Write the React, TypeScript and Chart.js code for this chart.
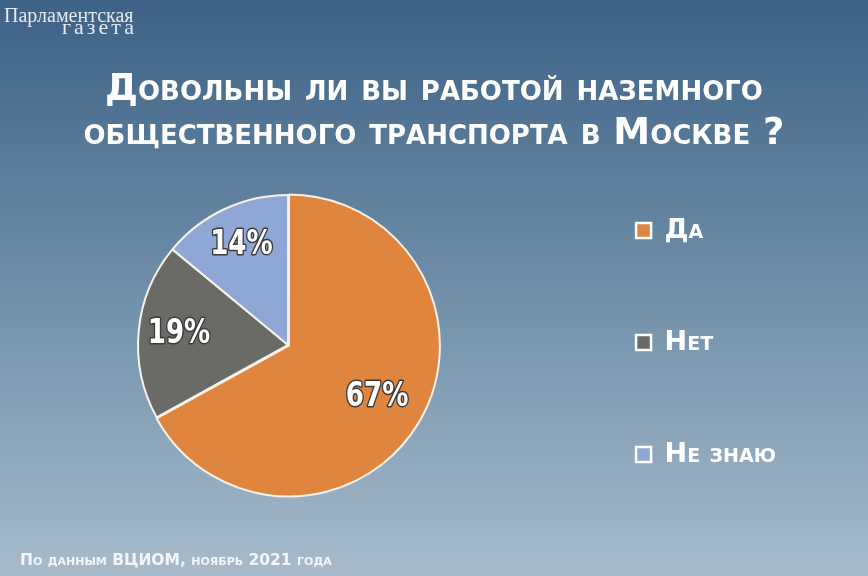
import React, { useEffect, useRef } from 'react';
import { Chart, registerables } from 'chart.js';

Chart.register(...registerables);

// ---- data ----
const categories = ['Да', 'Нет', 'Не знаю'];
const values = [67, 19, 14];
const sliceColors = ['#df853d', '#6a6b67', '#8fa7d4'];
const titleLines = ['Довольны ли вы работой наземного', 'общественного транспорта в Москве ?'];
const footerText = 'По данным ВЦИОМ, ноябрь 2021 года';
const logoTop = 'Парламентская';
const logoBottom = 'газета';

const FAMILY = "'DejaVu Sans', sans-serif";
const COND = "'DejaVu Sans Condensed', 'DejaVu Sans', sans-serif";
const W = 868;
const H = 576;
const LEGEND_FONT = 27;
const LEGEND_TEXT_W = 173.5;
const labelRadius = [0.69, 0.73, 0.73];

const backgroundPlugin = {
  id: 'bgPlugin',
  beforeDraw(chart: any) {
    const ctx = chart.ctx;
    ctx.save();
    const g = ctx.createLinearGradient(0, 0, 0, chart.height);
    g.addColorStop(0, '#3d6286');
    g.addColorStop(0.45, '#6a8aa5');
    g.addColorStop(1, '#a7bbcb');
    ctx.fillStyle = g;
    ctx.fillRect(0, 0, chart.width, chart.height);
    // logo
    ctx.fillStyle = '#e4eaf0';
    ctx.textBaseline = 'alphabetic';
    ctx.textAlign = 'left';
    ctx.font = "20px 'Liberation Serif', 'DejaVu Serif', serif";
    ctx.fillText(logoTop, 4, 22);
    ctx.font = "22px 'Liberation Serif', 'DejaVu Serif', serif";
    (ctx as any).letterSpacing = '3px';
    ctx.fillText(logoBottom, 62, 34);
    (ctx as any).letterSpacing = '0px';
    ctx.restore();
  },
};

const pctLabelsPlugin = {
  id: 'pctLabels',
  afterDatasetsDraw(chart: any) {
    const meta = chart.getDatasetMeta(0);
    const ctx = chart.ctx;
    meta.data.forEach((arc: any, i: number) => {
      const p = arc.getProps(['x', 'y', 'startAngle', 'endAngle', 'outerRadius'], true);
      const mid = (p.startAngle + p.endAngle) / 2;
      const r = p.outerRadius * labelRadius[i];
      const x = p.x + Math.cos(mid) * r;
      const y = p.y + Math.sin(mid) * r;
      const text = `${values[i]}%`;
      ctx.save();
      ctx.translate(x, y);
      ctx.scale(0.88, 1);
      ctx.font = `bold 33px ${COND}`;
      ctx.textAlign = 'center';
      ctx.textBaseline = 'middle';
      ctx.lineJoin = 'round';
      ctx.lineWidth = 3;
      ctx.strokeStyle = '#3b3b3b';
      ctx.strokeText(text, 0, 0);
      ctx.fillStyle = '#ffffff';
      ctx.fillText(text, 0, 0);
      ctx.restore();
    });
  },
};

function padText(ctx: CanvasRenderingContext2D, c: string, target: number) {
  let t = c;
  const nb = '\u00A0';
  const hs = '\u200A';
  let g = 0;
  while (ctx.measureText(t + nb).width <= target && g < 80) {
    t += nb;
    g++;
  }
  g = 0;
  while (ctx.measureText(t + hs).width <= target + 0.5 && g < 40) {
    t += hs;
    g++;
  }
  return t;
}

export default function App() {
  const ref = useRef<HTMLCanvasElement>(null);

  useEffect(() => {
    if (!ref.current) return;
    const chart = new Chart(ref.current, {
      type: 'pie',
      data: {
        labels: categories,
        datasets: [
          {
            data: values,
            backgroundColor: sliceColors,
            borderColor: '#f6f2ea',
            borderWidth: 2,
            offset: [4, 0, 0],
            hoverOffset: 0,
            radius: 150,
          } as any,
        ],
      },
      options: {
        responsive: false,
        animation: false,
        layout: { padding: { left: 20, right: 20, top: 0, bottom: 0 } },
        plugins: {
          tooltip: { enabled: false },
          title: {
            display: true,
            text: titleLines,
            color: '#ffffff',
            font: { family: FAMILY, size: 37, weight: 'small-caps bold' as any, lineHeight: '44px' as any },
            padding: { top: 68, bottom: -20 } as any,
          },
          subtitle: {
            display: true,
            position: 'bottom',
            align: 'start',
            text: footerText,
            color: '#f3f6f9',
            font: { family: FAMILY, size: 15.5, weight: 'small-caps bold' as any, lineHeight: '16px' as any },
            padding: { top: -1, bottom: 7 } as any,
          },
          legend: {
            display: true,
            position: 'right',
            align: 'center',
            fullSize: false,
            labels: {
              color: '#ffffff',
              boxWidth: 15,
              boxHeight: 15,
              padding: 80,
              font: { family: FAMILY, size: LEGEND_FONT, weight: 'small-caps bold' as any, lineHeight: '32px' as any },
              generateLabels: (ch: any) => {
                const ctx = ch.ctx as CanvasRenderingContext2D;
                ctx.save();
                ctx.font = `normal small-caps bold ${LEGEND_FONT}px ${FAMILY}`;
                const items = categories.map((c, i) => ({
                  text: [padText(ctx, c, LEGEND_TEXT_W)],
                  fillStyle: sliceColors[i],
                  strokeStyle: '#ffffff',
                  lineWidth: 2.5,
                  fontColor: '#ffffff',
                  hidden: false,
                  index: i,
                }));
                ctx.restore();
                return items as any;
              },
            },
          },
        },
      },
      plugins: [backgroundPlugin, pctLabelsPlugin],
    });
    return () => chart.destroy();
  }, []);

  return (
    <div style={{ position: 'fixed', left: 0, top: 0, width: W, height: H }}>
      <canvas ref={ref} width={W} height={H} style={{ display: 'block', width: W, height: H }} />
    </div>
  );
}
